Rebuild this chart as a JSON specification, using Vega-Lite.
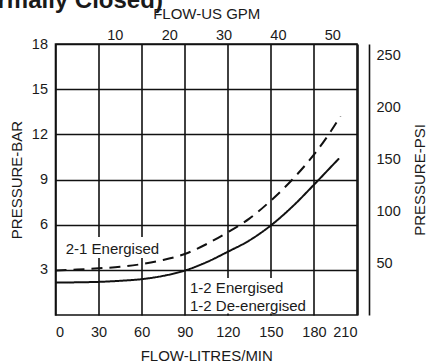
{
  "$schema": "https://vega.github.io/schema/vega-lite/v6.json",
  "width": 301.5,
  "height": 271,
  "autosize": "none",
  "padding": {"left": 55.5, "top": 44, "right": 73, "bottom": 48},
  "background": "white",
  "config": {
    "font": "Liberation Sans",
    "view": {"stroke": "#111", "strokeWidth": 1.6},
    "axis": {
      "labelFont": "Liberation Sans",
      "titleFont": "Liberation Sans",
      "labelFontSize": 14.5,
      "titleFontSize": 15,
      "titleFontWeight": "normal",
      "labelColor": "#1a1a1a",
      "titleColor": "#1a1a1a",
      "ticks": false,
      "tickSize": 0,
      "gridColor": "#111",
      "gridWidth": 1.6,
      "gridOpacity": 1
    }
  },
  "title": {
    "text": "(Normally Closed)",
    "anchor": "start",
    "frame": "group",
    "fontSize": 24,
    "fontWeight": "bold",
    "font": "Liberation Sans",
    "color": "#1a1a1a",
    "dx": -98,
    "dy": 26,
    "baseline": "alphabetic",
    "offset": 0
  },
  "datasets": {
    "curves": [
      {"flow": 0, "bar": 2.15, "series": "1-2"},
      {"flow": 15, "bar": 2.17, "series": "1-2"},
      {"flow": 30, "bar": 2.2, "series": "1-2"},
      {"flow": 45, "bar": 2.27, "series": "1-2"},
      {"flow": 60, "bar": 2.38, "series": "1-2"},
      {"flow": 75, "bar": 2.6, "series": "1-2"},
      {"flow": 90, "bar": 2.95, "series": "1-2"},
      {"flow": 105, "bar": 3.5, "series": "1-2"},
      {"flow": 120, "bar": 4.2, "series": "1-2"},
      {"flow": 135, "bar": 4.95, "series": "1-2"},
      {"flow": 150, "bar": 5.95, "series": "1-2"},
      {"flow": 165, "bar": 7.2, "series": "1-2"},
      {"flow": 180, "bar": 8.65, "series": "1-2"},
      {"flow": 190, "bar": 9.65, "series": "1-2"},
      {"flow": 197.5, "bar": 10.4, "series": "1-2"},
      {"flow": 0, "bar": 2.95, "series": "2-1"},
      {"flow": 15, "bar": 3.02, "series": "2-1"},
      {"flow": 30, "bar": 3.1, "series": "2-1"},
      {"flow": 45, "bar": 3.2, "series": "2-1"},
      {"flow": 60, "bar": 3.38, "series": "2-1"},
      {"flow": 75, "bar": 3.65, "series": "2-1"},
      {"flow": 90, "bar": 4.05, "series": "2-1"},
      {"flow": 105, "bar": 4.7, "series": "2-1"},
      {"flow": 120, "bar": 5.5, "series": "2-1"},
      {"flow": 135, "bar": 6.4, "series": "2-1"},
      {"flow": 150, "bar": 7.6, "series": "2-1"},
      {"flow": 165, "bar": 9.0, "series": "2-1"},
      {"flow": 180, "bar": 10.65, "series": "2-1"},
      {"flow": 190, "bar": 11.95, "series": "2-1"},
      {"flow": 198.5, "bar": 13.2, "series": "2-1"}
    ],
    "labels": [
      {"label": "2-1 Energised", "flow": 7.1, "bar": 4.05},
      {"label": "1-2 Energised", "flow": 93.7, "bar": 1.44},
      {"label": "1-2 De-energised", "flow": 93.7, "bar": 0.29}
    ],
    "boxes": [
      {"flow": 5.2, "flow2": 74.2, "bar": 3.78, "bar2": 5.18},
      {"flow": 91.6, "flow2": 178.7, "bar": 0.1, "bar2": 2.46}
    ],
    "gpm": [{"gpm": 0}, {"gpm": 55.48}],
    "psi": [{"psi": 0}, {"psi": 261.07}]
  },
  "layer": [
    {
      "encoding": {
        "x": {
          "field": "flow",
          "type": "quantitative",
          "scale": {"domain": [0, 210], "nice": false, "zero": false},
          "axis": {
            "orient": "bottom",
            "values": [0, 30, 60, 90, 120, 150, 180, 210],
            "grid": true,
            "domain": false,
            "labelPadding": 10,
            "title": "FLOW-LITRES/MIN",
            "titlePadding": 10
          }
        },
        "y": {
          "field": "bar",
          "type": "quantitative",
          "scale": {"domain": [0, 18], "nice": false, "zero": false},
          "axis": {
            "orient": "left",
            "values": [3, 6, 9, 12, 15, 18],
            "grid": true,
            "domain": false,
            "labelPadding": 8,
            "title": "PRESSURE-BAR",
            "titlePadding": 7
          }
        }
      },
      "layer": [
        {
          "data": {"name": "boxes"},
          "mark": {"type": "rect", "fill": "white", "stroke": null},
          "encoding": {
            "x2": {"field": "flow2"},
            "y2": {"field": "bar2"}
          }
        },
        {
          "data": {"name": "curves"},
          "mark": {"type": "line", "color": "#111", "strokeWidth": 2, "interpolate": "monotone"},
          "encoding": {
            "detail": {"field": "series"},
            "strokeDash": {
              "field": "series",
              "type": "nominal",
              "scale": {"domain": ["1-2", "2-1"], "range": [[1, 0], [11, 7]]},
              "legend": null
            }
          }
        },
        {
          "data": {"name": "labels"},
          "mark": {"type": "text", "align": "left", "baseline": "alphabetic", "fontSize": 15, "color": "#1a1a1a", "font": "Liberation Sans"},
          "encoding": {
            "text": {"field": "label"}
          }
        }
      ]
    },
    {
      "data": {"name": "gpm"},
      "mark": {"type": "point", "opacity": 0},
      "encoding": {
        "x": {
          "field": "gpm",
          "type": "quantitative",
          "scale": {"domain": [0, 55.48], "nice": false, "zero": false},
          "axis": {
            "orient": "top",
            "values": [10, 20, 30, 40, 50],
            "grid": false,
            "domain": false,
            "labelPadding": 2,
            "labelOffset": 5,
            "title": "FLOW-US GPM",
            "titlePadding": 6
          }
        }
      }
    },
    {
      "data": {"name": "psi"},
      "mark": {"type": "point", "opacity": 0},
      "encoding": {
        "y": {
          "field": "psi",
          "type": "quantitative",
          "scale": {"domain": [0, 261.07], "nice": false, "zero": false},
          "axis": {
            "orient": "right",
            "values": [50, 100, 150, 200, 250],
            "grid": false,
            "domain": true,
            "domainColor": "#111",
            "domainWidth": 1.6,
            "offset": 12,
            "labelPadding": 7,
            "title": "PRESSURE-PSI",
            "titleAngle": 270,
            "titlePadding": 27
          }
        }
      }
    }
  ],
  "resolve": {"scale": {"x": "independent", "y": "independent"}}
}
